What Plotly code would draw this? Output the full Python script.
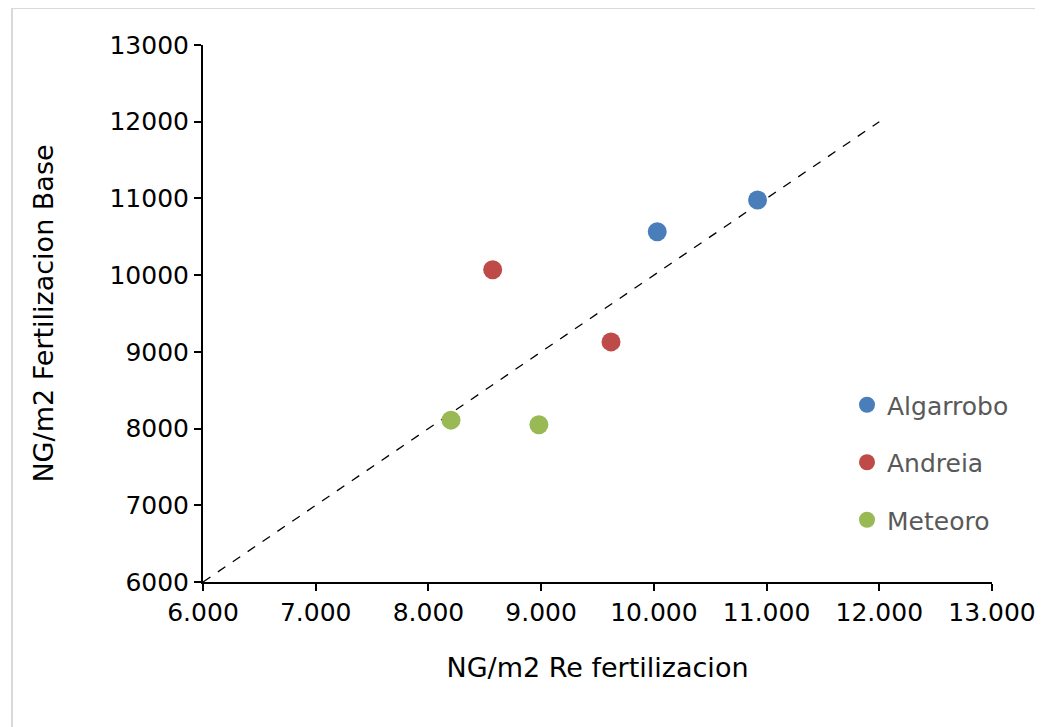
import plotly.graph_objects as go

# Data
series_names = ["Algarrobo", "Andreia", "Meteoro"]
algarrobo_x = [10030, 10920]
algarrobo_y = [10565, 10980]
andreia_x = [8570, 9620]
andreia_y = [10070, 9130]
meteoro_x = [8200, 8980]
meteoro_y = [8110, 8050]
colors = ["#4A7EBB", "#BE4B48", "#98B954"]

ref_line_x = [6000, 12000]
ref_line_y = [6000, 12000]

x_tickvals = [6000, 7000, 8000, 9000, 10000, 11000, 12000, 13000]
x_ticktext = ["6.000", "7.000", "8.000", "9.000", "10.000", "11.000", "12.000", "13.000"]
y_tickvals = [6000, 7000, 8000, 9000, 10000, 11000, 12000, 13000]
y_ticktext = ["6000", "7000", "8000", "9000", "10000", "11000", "12000", "13000"]

FONT = "DejaVu Sans, sans-serif"

fig = go.Figure()
fig.add_trace(go.Scatter(x=ref_line_x, y=ref_line_y, mode="lines",
                         line=dict(color="black", width=1.3, dash="dash"),
                         showlegend=False, hoverinfo="skip"))
for name, xs, ys, c in zip(series_names,
                           [algarrobo_x, andreia_x, meteoro_x],
                           [algarrobo_y, andreia_y, meteoro_y], colors):
    fig.add_trace(go.Scatter(x=xs, y=ys, mode="markers", name=name,
                             legendgroup=name,
                             marker=dict(color=c, size=19, line=dict(width=0))))

# page has an 8px body margin; figure is sized so the plot area lands where the reference has it
OFF = 8
W, H = 1043 - OFF, 727 - OFF
L, R, T, B = 203 - OFF, 51, 45 - OFF, 145
pw, ph = W - L - R, H - T - B

def px_x(page_x):
    return (page_x - OFF - L) / pw

def px_y(page_y):
    return (H + OFF - B - page_y) / ph

fig.update_layout(
    width=W, height=H,
    margin=dict(l=L, r=R, t=T, b=B, pad=0, autoexpand=False),
    paper_bgcolor="white", plot_bgcolor="white",
    font=dict(family=FONT, size=25, color="black"),
    xaxis=dict(range=[6000, 13000], tickvals=x_tickvals, ticktext=x_ticktext,
               automargin=False,
               showgrid=False, zeroline=False, showline=True, linecolor="black",
               linewidth=2, ticks="outside", ticklen=7, tickwidth=2, tickcolor="black",
               tickfont=dict(size=25, family=FONT),
               title=dict(text="NG/m2 Re fertilizacion", font=dict(size=27, family=FONT),
                          standoff=32)),
    yaxis=dict(range=[6000, 13000], tickvals=y_tickvals, ticktext=y_ticktext,
               automargin=False,
               showgrid=False, zeroline=False, showline=True, linecolor="black",
               linewidth=2, ticks="outside", ticklen=7, tickwidth=2, tickcolor="black",
               tickfont=dict(size=25, family=FONT),
               title=dict(text="NG/m2 Fertilizacion Base", font=dict(size=27, family=FONT),
                          standoff=48)),
    legend=dict(x=px_x(847), y=px_y(382), xanchor="left", yanchor="top",
                font=dict(size=25, color="#595959", family=FONT),
                tracegroupgap=22, bgcolor="rgba(0,0,0,0)", itemwidth=30),
    shapes=[dict(type="rect", xref="paper", yref="paper",
                 x0=px_x(12), x1=px_x(1080),
                 y0=px_y(760), y1=px_y(8),
                 line=dict(color="#D9D9D9", width=2), layer="below")],
)

fig.write_html("out.html")
